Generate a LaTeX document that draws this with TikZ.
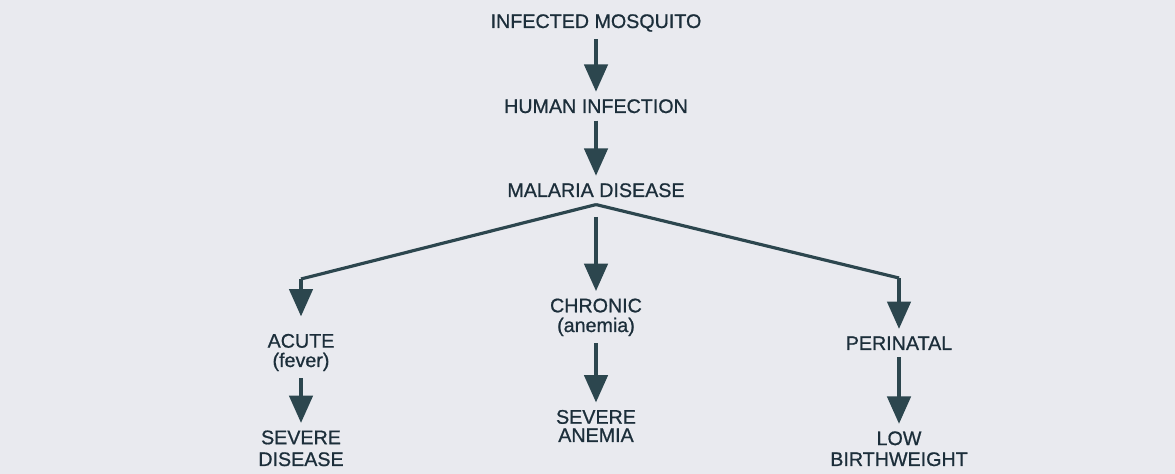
\documentclass[tikz,border=0pt]{standalone}
\usepackage{fontspec}
\setmainfont{Liberation Sans}
\newfontfamily\malfont{Liberation Sans}[FakeBold=0.8]
\usetikzlibrary{arrows.meta}
\definecolor{malpage}{RGB}{233,234,239}
\definecolor{malink}{RGB}{28,46,58}
\definecolor{malshaft}{RGB}{44,70,78}
\tikzset{
  malbase/.style={line join=miter},
  maltext/.style={font=\malfont\fontsize{11.2}{12.8}\selectfont,text=malink,align=center,anchor=base,inner sep=4pt},
  malstep/.style={draw=malshaft,line width=2.6pt,-{Triangle[length=5.5mm,width=4.6mm]}},
  malfork/.style={draw=malshaft,line width=1.8pt}
}

\begin{document}
\begin{tikzpicture}[malbase]
\fill[malpage] (0,0) rectangle (23.5,-9.48);
\useasboundingbox (0,0) rectangle (23.5,-9.48);
\node[maltext] (mosq) at (11.92,-.56) {INFECTED MOSQUITO};
\node[maltext] (human) at (11.92,-2.26) {HUMAN INFECTION};
\node[maltext] (malaria) at (11.92,-3.94) {MALARIA DISEASE};
\node[maltext] (acute) at (6.02,-7.34) {ACUTE\\[-1.8pt](fever)};
\node[maltext] (sevdis) at (6.02,-9.32) {SEVERE\\[-.4pt]DISEASE};
\node[maltext] (chronic) at (11.92,-6.64) {CHRONIC\\[-1.6pt](anemia)};
\node[maltext] (sevane) at (11.92,-8.84) {SEVERE\\[-2.4pt]ANEMIA};
\node[maltext] (perinatal) at (17.98,-7.0) {PERINATAL};
\node[maltext] (lowbw) at (17.98,-9.32) {LOW\\[-.9pt]BIRTHWEIGHT};
\coordinate (leftbend) at (6.02,-5.58);
\coordinate (rightbend) at (17.98,-5.56);
\coordinate (midstart) at (11.92,-4.34);
\draw[malstep] (mosq) -- (human);
\draw[malstep] (human) -- (malaria);
% the three branches
\draw[malfork] (malaria.south) -- (leftbend);
\draw[malfork] (malaria.south) -- (rightbend);
\draw[malstep,shorten >=.2cm] (leftbend) -- (acute.north);
\draw[malstep] (rightbend) -- (perinatal.north);
\draw[malstep] (midstart) -- (chronic.north);
\draw[malstep] (acute) -- (sevdis);
\draw[malstep] (chronic) -- (sevane);
\draw[malstep] (perinatal) -- (lowbw);
\end{tikzpicture}
\end{document}
